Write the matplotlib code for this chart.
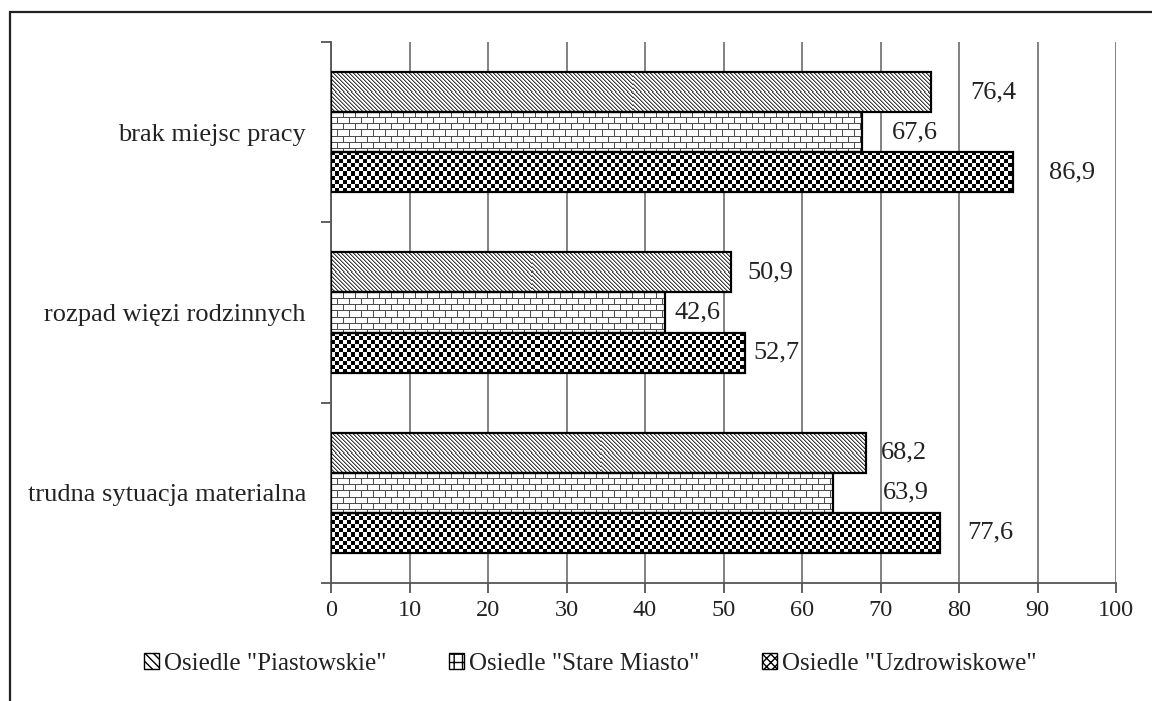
import numpy as np
import matplotlib
matplotlib.use("Agg")
import matplotlib.pyplot as plt
from matplotlib.patches import Rectangle

plt.rcParams['font.family'] = ['Liberation Serif', 'DejaVu Serif']

categories = ['trudna sytuacja materialna', 'rozpad więzi rodzinnych', 'brak miejsc pracy']
series = ['Osiedle "Piastowskie"', 'Osiedle "Stare Miasto"', 'Osiedle "Uzdrowiskowe"']
piastowskie = [68.2, 50.9, 76.4]
stare_miasto = [63.9, 42.6, 67.6]
uzdrowiskowe = [77.6, 52.7, 86.9]
# label shift to the right of bar end (data units), as in the original
label_shift = [[1.9, 2.1, 5.0],
               [6.4, 1.2, 3.8],
               [3.5, 1.1, 4.6]]

W, H, DPI = 1152, 701, 100
fig = plt.figure(figsize=(W / DPI, H / DPI), dpi=DPI)
ax = fig.add_axes([331 / W, 1 - 583 / H, (1116 - 331) / W, (583 - 42) / H])

# outer frame of the picture
fig.patches.append(Rectangle((10 / W, -0.5), 2.0, 1.5 - 12 / H,
                             transform=fig.transFigure, fill=False,
                             edgecolor='#222222', linewidth=1.6))


def pattern(kind, wpx, hpx):
    r, c = np.mgrid[0:hpx, 0:wpx]
    img = np.ones((hpx, wpx))
    if kind == 'diag':
        img[(c - r) % 4 == 0] = 0.25
        img[(c - r) % 4 == 1] = 0.6
    elif kind == 'brick':
        row = r // 6
        img[r % 6 == 0] = 0.3
        img[((c + (row % 2) * 6) % 12 == 0)] = 0.3
    else:
        img[((r // 4) + (c // 4)) % 2 == 0] = 0.0
    return img


y = np.arange(len(categories))
h = 0.2222
offsets = [h, 0, -h]
kinds = ['diag', 'brick', 'check']
px_per_unit = (1116 - 331) / 100
px_per_y = (583 - 42) / 3

for k, vals in enumerate([piastowskie, stare_miasto, uzdrowiskowe]):
    bars = ax.barh(y + offsets[k], vals, height=h, facecolor='none',
                   edgecolor='black', linewidth=1.6, zorder=4)
    for i, b in enumerate(bars):
        x0, y0 = b.get_x(), b.get_y()
        bw, bh = b.get_width(), b.get_height()
        img = pattern(kinds[k], max(int(bw * px_per_unit), 1), int(bh * px_per_y))
        im = ax.imshow(img, cmap='gray', vmin=0, vmax=1, interpolation='nearest',
                       extent=[x0, x0 + bw, y0, y0 + bh], aspect='auto', zorder=3)
        im.set_clip_path(b)
        ax.text(vals[i] + label_shift[k][i], y[i] + offsets[k],
                str(vals[i]).replace('.', ','), va='center', ha='left',
                fontsize=19, color='#222222', zorder=5)

ax.set_xlim(0, 100)
ax.set_ylim(-0.5, 2.5)
ax.set_xticks(np.arange(0, 101, 10))
ax.set_yticks([-0.5, 0.5, 1.5, 2.5])
ax.set_yticklabels([])
ax.set_yticks(y, minor=True)
ax.set_yticklabels(categories, minor=True)
ax.tick_params(axis='y', which='minor', length=0, pad=18, labelsize=19,
               labelcolor='#222222')
ax.tick_params(axis='y', which='major', length=7, width=1.3, color='#555555')
ax.tick_params(axis='x', length=7, width=1.3, color='#555555', labelsize=17.5,
               pad=5, labelcolor='#222222')
ax.grid(axis='x', color='#777777', linewidth=1.3, zorder=0)
ax.set_axisbelow(True)
for s in ['top', 'right']:
    ax.spines[s].set_visible(False)
for s in ['left', 'bottom']:
    ax.spines[s].set_color('#555555')
    ax.spines[s].set_linewidth(1.3)

handles = [Rectangle((0, 0), 1, 1, facecolor='white', edgecolor='black', hatch='\\\\\\\\'),
           Rectangle((0, 0), 1, 1, facecolor='white', edgecolor='black', hatch='++'),
           Rectangle((0, 0), 1, 1, facecolor='white', edgecolor='black', hatch='xxxx')]
fig.legend(handles, series, loc='center', bbox_to_anchor=(590 / W, 1 - 664 / H),
           ncol=3, frameon=False, fontsize=18, handlelength=0.6,
           handleheight=0.6, handletextpad=0.2, columnspacing=2.5,
           labelcolor='#222222')

fig.savefig('out.png', dpi=DPI)
